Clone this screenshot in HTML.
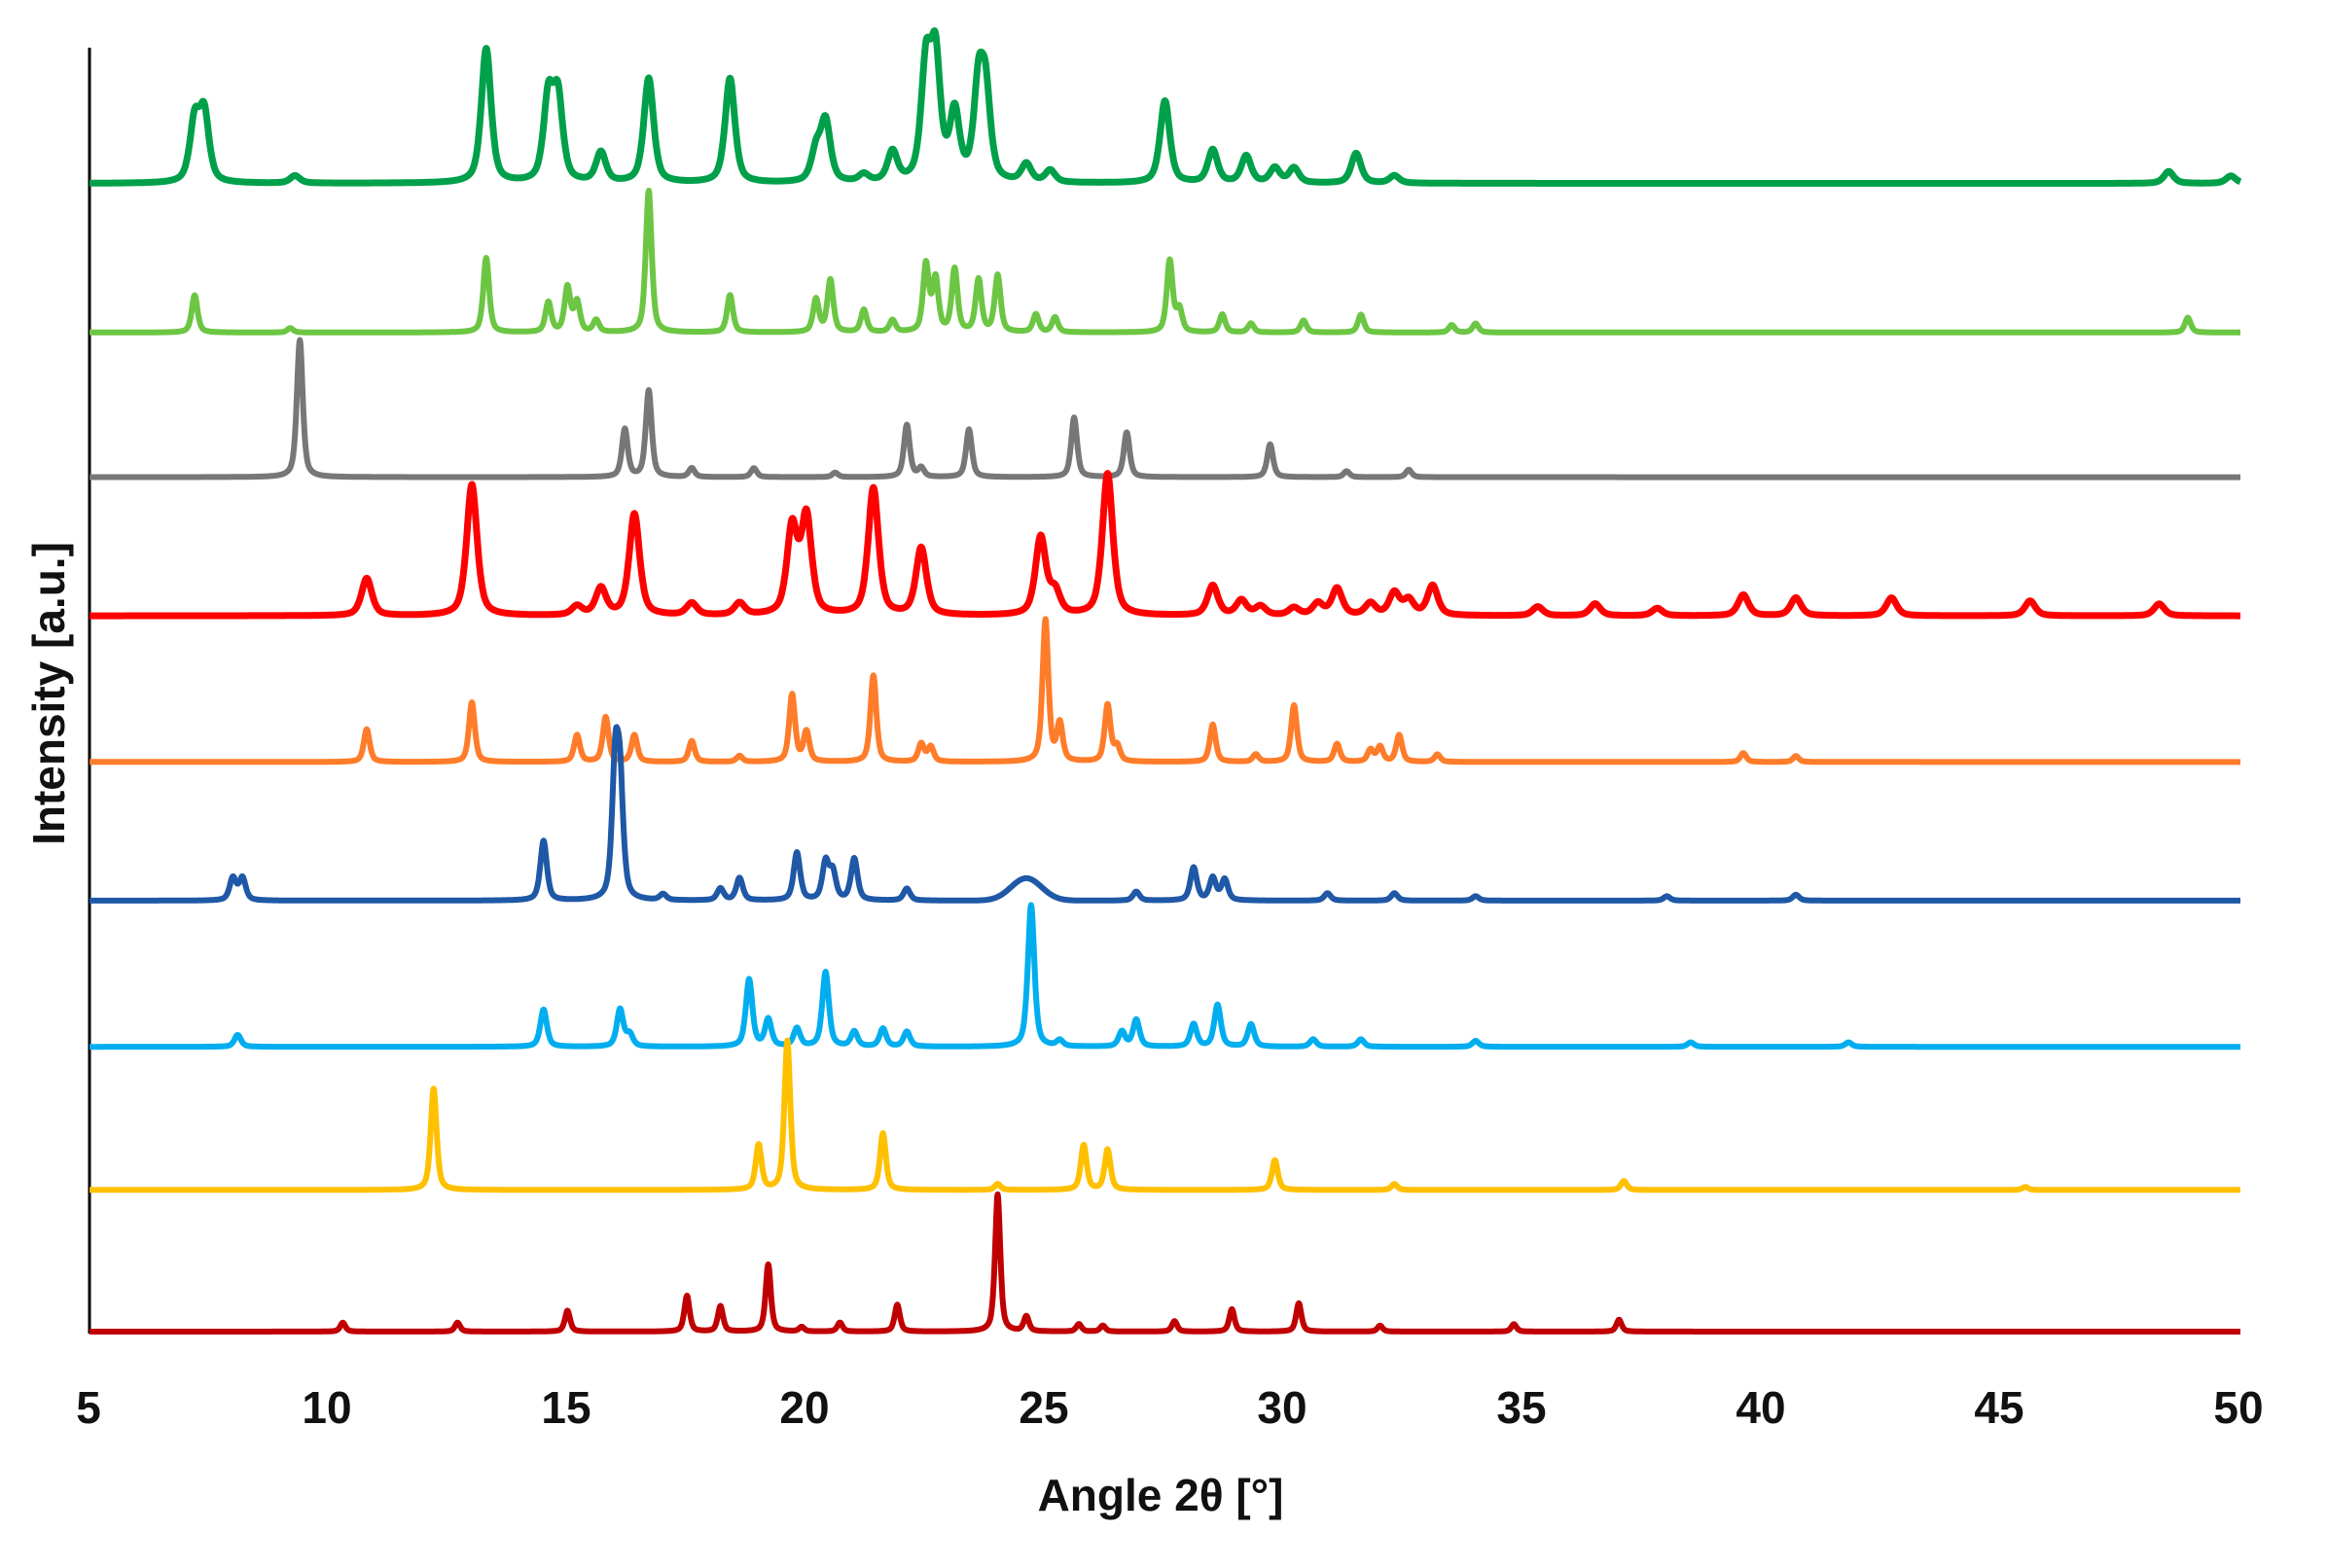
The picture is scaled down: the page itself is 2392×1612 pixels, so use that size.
<!DOCTYPE html>
<html><head><meta charset="utf-8"><style>
html,body{margin:0;padding:0;background:#fff;}
svg{display:block;}
text{font-family:"Liberation Sans",sans-serif;font-weight:bold;fill:#111;}
</style></head><body>
<svg id="s" width="2392" height="1612" viewBox="0 0 2392 1612">
<line x1="92" y1="49" x2="92" y2="1371" stroke="#000" stroke-width="3"/>
<g font-size="46" text-anchor="middle">
<text x="91" y="1463">5</text><text x="336" y="1463">10</text><text x="582" y="1463">15</text>
<text x="827" y="1463">20</text><text x="1073" y="1463">25</text><text x="1318" y="1463">30</text>
<text x="1564" y="1463">35</text><text x="1810" y="1463">40</text><text x="2055" y="1463">45</text>
<text x="2301" y="1463">50</text>
</g>
<text x="1193" y="1553" font-size="46" text-anchor="middle">Angle 2θ  [°]</text>
<text transform="translate(66,713) rotate(-90)" font-size="46" text-anchor="middle">Intensity [a.u.]</text>
<g id="g" fill="none" stroke-linejoin="round"></g>
</svg>
<script>
const X=d=>92+(d-5)*(2303-92)/45;
const S=1.533;
const series=[
["#00a04a",123,0.15,7,[[7.2,40],[7.4,45],[9.3,5],[13.3,90],[14.6,55],[14.8,55],[15.7,20],[16.7,70],[18.4,70],[20.2,20],[20.4,40],[21.2,5],[21.8,20],[22.5,75],[22.7,80],[23.1,45],[23.6,60],[23.75,55],[24.6,12],[25.1,8],[27.5,55],[28.5,22],[29.2,18],[29.8,10],[30.2,10],[31.5,20],[32.3,5],[48.5,8],[49.8,5]]],
["#6cc644",223,0.09,6,[[7.2,25],[9.2,3],[13.3,50],[14.6,20],[15.0,30],[15.2,20],[15.6,8],[16.7,95],[18.4,25],[20.2,22],[20.5,35],[21.2,15],[21.8,8],[22.5,45],[22.7,35],[23.1,42],[23.6,35],[24.0,38],[24.8,12],[25.2,10],[27.6,48],[27.8,15],[28.7,12],[29.3,6],[30.4,8],[31.6,12],[33.5,5],[34.0,6],[48.9,10]]],
["#777777",320,0.09,6,[[9.4,92],[16.2,32],[16.7,58],[17.6,6],[18.9,6],[20.6,3],[22.1,35],[22.4,6],[23.4,32],[25.6,40],[26.7,30],[29.7,22],[31.3,4],[32.6,5]]],
["#ff0000",413,0.16,7,[[10.8,25],[13.0,88],[15.2,6],[15.7,18],[16.4,68],[17.6,8],[18.6,8],[19.7,58],[20.0,65],[21.4,85],[22.4,45],[24.9,52],[25.2,15],[26.3,95],[28.5,20],[29.1,10],[29.5,6],[30.2,5],[30.7,8],[31.1,18],[31.8,8],[32.3,15],[32.6,10],[33.1,20],[35.3,6],[36.5,8],[37.8,5],[39.6,14],[40.7,12],[42.7,12],[45.6,10],[48.3,8]]],
["#ff7c2a",511,0.09,6,[[10.8,22],[13.0,40],[15.2,18],[15.8,30],[16.4,18],[17.6,14],[18.6,4],[19.7,45],[20.0,20],[21.4,58],[22.4,12],[22.6,10],[25.0,95],[25.3,25],[26.3,38],[26.5,10],[28.5,25],[29.4,5],[30.2,38],[31.1,12],[31.8,8],[32.0,10],[32.4,18],[33.2,5],[39.6,6],[40.7,4]]],
["#1f58a6",604,0.10,6,[[8.0,15],[8.2,15],[14.5,40],[16.0,85],[16.1,70],[17.0,4],[18.2,8],[18.6,15],[19.8,32],[20.4,25],[20.55,18],[21.0,28],[22.1,8],[26.9,6],[28.1,22],[28.5,15],[28.75,14],[30.9,5],[32.3,5],[34,3],[38,3],[40.7,4]]],
["#00aeef",702,0.10,6,[[8.1,8],[14.5,25],[16.1,25],[16.3,8],[18.8,45],[19.2,18],[19.8,12],[20.4,50],[21.0,10],[21.6,12],[22.1,10],[24.7,95],[25.3,4],[26.6,10],[26.9,18],[28.1,15],[28.6,28],[29.3,15],[30.6,5],[31.6,5],[34,4],[38.5,3],[41.8,3]]],
["#ffc000",798,0.09,6,[[12.2,68],[19.0,30],[19.6,100],[21.6,38],[24.0,4],[25.8,30],[26.3,27],[29.8,20],[32.3,4],[37.1,6],[45.5,2]]],
["#c00000",893,0.08,6,[[10.3,6],[12.7,6],[15.0,14],[17.5,24],[18.2,17],[19.2,45],[19.9,3],[20.7,6],[21.9,18],[24.0,92],[24.6,10],[25.7,5],[26.2,4],[27.7,7],[28.9,15],[30.3,19],[32,4],[34.8,5],[37.0,8]]]
];
let out="";
for(const [c,b,w,sw,pk] of series){
 let d="";
 const extra=(c=="#1f58a6")?[[24.6,15,0.45]]:[];
 for(let t=5;t<=50.0001;t+=0.01){
  let y=0;
  for(const [x0,h] of pk){const u=(t-x0)/w;y+=h/(1+u*u*1.6)*0.6+h*Math.exp(-u*u)*0.4;}
  for(const [x0,h,ww] of extra){const u=(t-x0)/ww;y+=h*Math.exp(-u*u);}
  d+=(d?"L":"M")+X(t).toFixed(1)+","+((b-y)*S).toFixed(1);
 }
 out+=`<path d="${d}" stroke="${c}" stroke-width="${sw}"/>`;
}
document.getElementById("g").innerHTML=out;
</script>
</body></html>
